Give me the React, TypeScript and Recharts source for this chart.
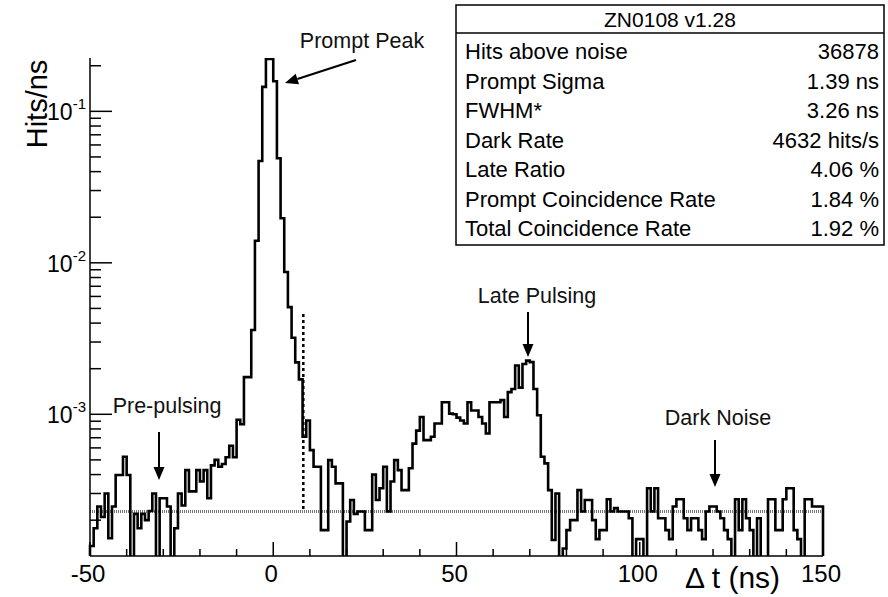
import { LineChart, Line, XAxis, YAxis, ReferenceLine } from 'recharts'

const FONT = '"Liberation Sans", Arial, Helvetica, sans-serif'

// histogram: 200 bins of 1 ns, left edges from -50 ns
const X_MIN = -50
const X_MAX = 150
const BIN_NS = 1

// Hits/ns per bin (0 = empty bin)
// -50 .. -9 ns
const prePulseBins = [
  1.35e-4, 1.77e-4, 2.46e-4, 2.1e-4, 3.0e-4, 1.52e-4, 2.46e-4, 3.97e-4, 3.97e-4, 5.24e-4,
  3.97e-4, 0, 2.2e-4, 1.77e-4, 2.2e-4, 2.0e-4, 2.3e-4, 3.0e-4, 0, 2.79e-4,
  2.79e-4, 2.46e-4, 0, 1.77e-4, 3.0e-4, 2.5e-4, 4.28e-4, 3.1e-4, 3.1e-4, 4.28e-4,
  3.6e-4, 4.28e-4, 2.79e-4, 4.6e-4, 5.0e-4, 4.5e-4, 4.7e-4, 5.2e-4, 6.2e-4, 5.2e-4,
  9.2e-4, 8.6e-4,
]
// -8 .. 9 ns
const promptBins = [
  1.76e-3, 1.76e-3, 3.6e-3, 1.4e-2, 4.7e-2, 0.145, 0.222, 0.222, 0.158, 0.049,
  0.0197, 0.0087, 0.0051, 0.0032, 0.0022, 0.0017, 7.1e-4, 9.1e-4,
]
// 10 .. 75 ns
const latePulseBins = [
  5.8e-4, 4.5e-4, 4.5e-4, 1.72e-4, 1.72e-4, 4.98e-4, 4.5e-4, 3.5e-4, 3.5e-4, 0,
  1.96e-4, 2.72e-4, 2.2e-4, 2.28e-4, 2.28e-4, 1.72e-4, 1.72e-4, 4.0e-4, 2.72e-4, 3.25e-4,
  4.5e-4, 2.28e-4, 3.6e-4, 4.98e-4, 4.28e-4, 3.16e-4, 3.16e-4, 4.4e-4, 6.4e-4, 7.8e-4,
  9.6e-4, 6.75e-4, 6.75e-4, 7.1e-4, 8.7e-4, 8.7e-4, 1.2e-3, 1.2e-3, 1.01e-3, 1.0e-3,
  9.5e-4, 9.1e-4, 8.7e-4, 1.2e-3, 1.06e-3, 1.06e-3, 9.6e-4, 8.7e-4, 7.46e-4, 1.2e-3,
  1.2e-3, 1.2e-3, 1.24e-3, 9.6e-4, 1.4e-3, 1.47e-3, 2.1e-3, 1.5e-3, 2.15e-3, 2.26e-3,
  2.21e-3, 1.47e-3, 9.85e-4, 5.24e-4, 4.74e-4, 3.16e-4,
]
// 76 .. 149 ns
const darkNoiseBins = [
  1.48e-4, 3.0e-4, 0, 1.3e-4, 1.72e-4, 2.0e-4, 2.0e-4, 3.16e-4, 2.28e-4, 2.72e-4,
  2.72e-4, 2.0e-4, 1.5e-4, 1.72e-4, 1.72e-4, 2.75e-4, 2.28e-4, 2.4e-4, 2.28e-4, 2.28e-4,
  2.28e-4, 2.06e-4, 0, 1.5e-4, 1.5e-4, 0, 3.25e-4, 2.28e-4, 3.25e-4, 2.06e-4,
  2.06e-4, 1.72e-4, 1.5e-4, 2.46e-4, 2.75e-4, 2.75e-4, 2.06e-4, 1.72e-4, 2.06e-4, 2.06e-4,
  1.72e-4, 1.5e-4, 2.28e-4, 2.46e-4, 2.46e-4, 2.28e-4, 2.06e-4, 1.72e-4, 1.5e-4, 0,
  2.75e-4, 1.72e-4, 2.75e-4, 2.06e-4, 1.72e-4, 0, 2.06e-4, 0, 0, 2.75e-4,
  2.75e-4, 1.72e-4, 1.72e-4, 2.75e-4, 3.25e-4, 3.25e-4, 1.72e-4, 1.5e-4, 0, 2.75e-4,
  2.75e-4, 2.46e-4, 2.46e-4, 2.46e-4,
]

const xTicks = [-50, -40, -30, -20, -10, 0, 10, 20, 30, 40, 50, 60, 70, 80, 90, 100, 110, 120, 130, 140, 150]
const xLabelled = [-50, 0, 50, 100, 150]
const yTicks = [
  2e-4, 3e-4, 4e-4, 5e-4, 6e-4, 7e-4, 8e-4, 9e-4,
  1e-3, 2e-3, 3e-3, 4e-3, 5e-3, 6e-3, 7e-3, 8e-3, 9e-3,
  1e-2, 2e-2, 3e-2, 4e-2, 5e-2, 6e-2, 7e-2, 8e-2, 9e-2,
  1e-1, 2e-1,
]
const Y_MIN = 1.16e-4
const Y_MAX = 0.225
const FLOOR = 1e-4 // empty bins get drawn down past the axis

const DARK_LEVEL = 2.28e-4
const PROMPT_CUT = 8.2
const PROMPT_CUT_TOP = 4.6e-3

const statsTitle = 'ZN0108 v1.28'
const statsLabels = [
  'Hits above noise',
  'Prompt Sigma',
  'FWHM*',
  'Dark Rate',
  'Late Ratio',
  'Prompt Coincidence Rate',
  'Total Coincidence Rate',
]
const statsValues = ['36878', '1.39 ns', '3.26 ns', '4632 hits/s', '4.06 %', '1.84 %', '1.92 %']

const notes = [
  { text: 'Prompt Peak', x: 362, y: 48, from: [356, 60], to: [285, 83] },
  { text: 'Pre-pulsing', x: 167, y: 413, from: [159, 432], to: [159, 480] },
  { text: 'Late Pulsing', x: 537, y: 303, from: [528, 312], to: [528, 357] },
  { text: 'Dark Noise', x: 718, y: 425, from: [715, 440], to: [715, 487] },
]

const binValues = [...prePulseBins, ...promptBins, ...latePulseBins, ...darkNoiseBins]
const histData = [
  { t: X_MIN, v: FLOOR },
  ...binValues.map((v, i) => ({ t: X_MIN + i * BIN_NS, v: v > 0 ? v : FLOOR })),
  { t: X_MAX, v: FLOOR },
]

function YTick(props: any) {
  const { x, y, payload } = props
  const exp = Math.log10(payload.value)
  const major = Math.abs(exp - Math.round(exp)) < 1e-6
  return (
    <g>
      <line x1={x} x2={x + (major ? 22 : 11)} y1={y} y2={y} stroke="#000" strokeWidth={1.5} />
      {major && (
        <text x={x - 4} y={y + 9} textAnchor="end" fontFamily={FONT} fontSize={23} fill="#000">
          10<tspan dy={-11} fontSize={15}>{Math.round(exp)}</tspan>
        </text>
      )}
    </g>
  )
}

function XTick(props: any) {
  const { x, y, payload } = props
  const major = xLabelled.includes(payload.value)
  return (
    <g>
      <line x1={x} x2={x} y1={y} y2={y - (major ? 14 : 7)} stroke="#000" strokeWidth={1.5} />
      {major && (
        <text x={x - 2} y={y + 26} textAnchor="middle" fontFamily={FONT} fontSize={24} fill="#000">
          {payload.value}
        </text>
      )}
    </g>
  )
}

function Arrow({ from, to }: { from: number[]; to: number[] }) {
  const [x1, y1] = from
  const [x2, y2] = to
  const a = Math.atan2(y2 - y1, x2 - x1)
  const bx = x2 - 13 * Math.cos(a)
  const by = y2 - 13 * Math.sin(a)
  const px = -Math.sin(a) * 5.5
  const py = Math.cos(a) * 5.5
  return (
    <g>
      <line x1={x1} y1={y1} x2={bx} y2={by} stroke="#000" strokeWidth={2} />
      <polygon points={`${x2},${y2} ${bx + px},${by + py} ${bx - px},${by - py}`} fill="#000" />
    </g>
  )
}

export default function App() {
  const rowY = (i: number) => 59 + i * 29.5
  return (
    <div style={{ position: 'absolute', left: 0, top: 0, width: 888, height: 597, background: '#fff', fontFamily: FONT }}>
      <LineChart width={888} height={597} data={histData} margin={{ top: 58, right: 65, bottom: 0, left: 0 }}>
        <XAxis
          dataKey="t"
          type="number"
          domain={[X_MIN, X_MAX]}
          ticks={xTicks}
          interval={0}
          height={41}
          tickSize={0}
          tickMargin={0}
          tickLine={false}
          tick={XTick}
          axisLine={{ stroke: '#000', strokeWidth: 1.5 }}
        />
        <YAxis
          type="number"
          scale="log"
          domain={[Y_MIN, Y_MAX]}
          allowDataOverflow
          ticks={yTicks}
          interval={0}
          width={90}
          tickSize={0}
          tickMargin={0}
          tickLine={false}
          tick={YTick}
          axisLine={{ stroke: '#000', strokeWidth: 1.5 }}
        />
        <ReferenceLine y={DARK_LEVEL} stroke="#777" strokeWidth={3} strokeDasharray="1 1" />
        <ReferenceLine
          segment={[{ x: PROMPT_CUT, y: PROMPT_CUT_TOP }, { x: PROMPT_CUT, y: DARK_LEVEL }]}
          stroke="#000"
          strokeWidth={2.5}
          strokeDasharray="3 3"
        />
        <Line
          type="stepAfter"
          dataKey="v"
          stroke="#000"
          strokeWidth={2.6}
          dot={false}
          activeDot={false}
          isAnimationActive={false}
        />
      </LineChart>

      <svg width={888} height={597} style={{ position: 'absolute', left: 0, top: 0, pointerEvents: 'none' }}>
        <text
          transform="translate(47,104) rotate(-90)"
          textAnchor="middle"
          fontFamily={FONT}
          fontSize={29}
          fill="#000"
        >
          Hits/ns
        </text>
        <text x={685} y={588} fontFamily={FONT} fontSize={30} fill="#000">
          Δ t (ns)
        </text>

        {notes.map((n) => (
          <g key={n.text}>
            <text x={n.x} y={n.y} textAnchor="middle" fontFamily={FONT} fontSize={21.5} fill="#111">
              {n.text}
            </text>
            <Arrow from={n.from} to={n.to} />
          </g>
        ))}

        <rect x={456} y={5} width={428} height={240} fill="#fff" stroke="#000" strokeWidth={1.5} />
        <line x1={456} x2={884} y1={33} y2={33} stroke="#000" strokeWidth={1.5} />
        <text x={670} y={27} textAnchor="middle" fontFamily={FONT} fontSize={21} fill="#000">
          {statsTitle}
        </text>
        {statsLabels.map((label, i) => (
          <g key={label}>
            <text x={465} y={rowY(i)} fontFamily={FONT} fontSize={22} fill="#000">
              {label}
            </text>
            <text x={879} y={rowY(i)} textAnchor="end" fontFamily={FONT} fontSize={22} fill="#000">
              {statsValues[i]}
            </text>
          </g>
        ))}
      </svg>
    </div>
  )
}
